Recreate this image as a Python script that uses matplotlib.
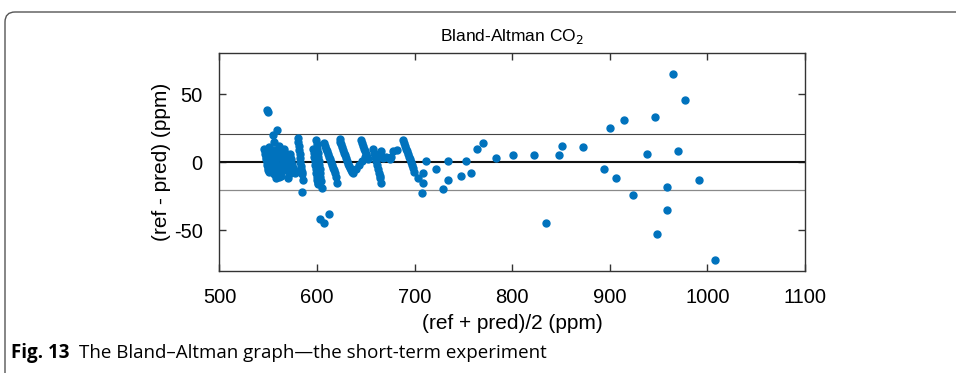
import numpy as np
import matplotlib
matplotlib.use('Agg')
import matplotlib.pyplot as plt
from matplotlib.patches import FancyBboxPatch
from matplotlib.transforms import IdentityTransform

#%% data: mean (ref, pred) vs difference, ppm
# dense part, one slanted streak after the other
x_dense = [546, 546.5, 547, 547.5, 548, 548.5, 549, 549.5, 550, 550.5,
           551, 551.5, 552, 552.5, 553, 553.5, 554, 554.5, 555, 555.5, 556,
           556, 556.5, 557, 557.5, 558, 558.5, 559, 559.5, 560, 560.5, 561,
           561, 561.5, 562, 562.5, 563, 563.5, 564, 564.5, 565, 565.5,
           566, 566.5, 567, 567.5, 568, 568.5, 569, 569.5, 570, 571,
           572, 572.5, 573, 573.5, 574, 575, 576, 577,
           549, 549.5, 555, 559, 556, 558, 563, 570,
           580, 580.5, 581, 581.5, 582, 582.5, 583, 583.5, 584, 584.5, 585, 586, 585,
           596, 596.5, 597, 597.5, 598, 598.5, 599, 599.5, 600, 600.5, 601,
           599, 599.5, 600, 600.5, 601, 601.5, 602, 602.5, 603, 603.5, 604, 605,
           603, 607, 612,
           607, 608, 609, 610, 611, 612, 613, 614, 615, 616, 617, 618, 619, 620,
           623, 624, 625, 626, 627, 628, 629, 630, 631, 632, 633, 634, 635, 636, 637,
           640, 643, 646, 649,
           645, 646, 647, 648, 649, 650, 651, 652,
           657, 658, 659, 660, 661, 662, 663, 664, 665, 666,
           661, 666, 668, 671, 675, 678, 682, 676,
           688, 689, 690, 691, 692, 693, 694, 695, 696, 697, 698, 699]
y_dense = [10, 8, 6, 4, 2, 0, -2, -4, -6, -7,
           11, 9, 7, 5, 3, 1, -1, -3, -5, -7, -9,
           9, 7, 5, 3, 1, -1, -3, -5, -7, -9, -11,
           12, 10, 8, 6, 4, 2, 0, -2, -4, -6,
           10, 8, 6, 4, 2, 0, -2, -4, -6, -9,
           6, 4, 2, 0, -2, -4, -6, -8,
           38, 37, 20, 24, 15, -12, -10, -12,
           18, 15, 12, 9, 6, 3, 0, -3, -5, -7, -9, -13, -22,
           10, 7, 4, 1, -2, -5, -8, -11, -13, -15, -16,
           16, 13, 10, 7, 4, 1, -2, -5, -8, -11, -14, -19,
           -42, -45, -38,
           14, 12, 10, 8, 6, 4, 2, 0, -2, -4, -6, -8, -11, -15,
           17, 15, 13, 11, 9, 7, 5, 3, 1, -1, -3, -4, -6, -7, -8,
           -5, -2, 1, 4,
           16, 14, 12, 10, 8, 6, 4, 2,
           10, 7, 4, 1, -2, -5, -8, -10, -12, -15,
           5, 8, 3, 4, 2, 8, 9, 4,
           16, 14, 12, 10, 8, 6, 4, 2, 0, -2, -4, -7]

# sparse part, above ~700 ppm
x_sparse = [703, 709, 709, 708, 712, 722, 729, 734, 734, 748, 753, 758,
            764, 770, 783, 801, 822, 848, 851, 873, 835,
            894, 900, 906, 915, 924, 938, 946, 948, 959, 959, 965,
            970, 977, 991, 1008]
y_sparse = [-12, -8, -15, -23, 1, -5, -20, 1, -13, -10, 1, -8,
            10, 14, 3, 5, 5, 5, 12, 11, -45,
            -5, 25, -12, 31, -24, 6, 33, -53, -18, -35, 65,
            8, 46, -13, -72]

mean_diff = 0.2
loa_upper = 20.8
loa_lower = -20.8

#%% plot
plt.rcParams['font.family'] = ['Liberation Sans', 'DejaVu Sans']
plt.rcParams['axes.unicode_minus'] = False
fig = plt.figure(figsize=(9.56, 3.73), dpi=100)
ax = fig.add_axes([0.2296, 0.2735, 0.6124, 0.5835])

ax.axhline(loa_upper, color='#444444', lw=0.8)
ax.axhline(loa_lower, color='#8a8a8a', lw=0.9)
ax.axhline(mean_diff, color='#111111', lw=1.5)
ax.plot(x_dense + x_sparse, y_dense + y_sparse, 'o', color='#0072BD',
        ms=5, mec='#0072BD', zorder=3)

ax.set_xlim(500, 1100)
ax.set_ylim(-80, 80)
ax.set_xticks(np.arange(500, 1101, 100))
ax.set_yticks([-50, 0, 50])
ax.tick_params(direction='in', length=5, width=1, top=True, right=True,
               labelsize=14.5, pad=12, color='#333333')
for s in ax.spines.values():
    s.set_color('#333333')
    s.set_linewidth(1)
ax.set_xlabel('(ref + pred)/2 (ppm)', fontsize=15, labelpad=5)
ax.set_ylabel('(ref - pred) (ppm)', fontsize=15, labelpad=2)
ax.set_title('Bland-Altman CO$_2$', fontsize=12.5, pad=9)

# rounded figure frame as on the journal page
frame = FancyBboxPatch((5, -50), 1100, 411, boxstyle='round,pad=0,rounding_size=10',
                       transform=IdentityTransform(), fill=False,
                       ec='#555555', lw=1)
fig.patches.append(frame)

fig.text(0.011, 0.04, 'Fig. 13', fontsize=13.5, fontweight='bold',
         family=['Open Sans', 'DejaVu Sans'])
fig.text(0.083, 0.04, 'The Bland\u2013Altman graph\u2014the short-term experiment',
         fontsize=13.5, family=['Open Sans', 'DejaVu Sans'])

fig.savefig('out.png', dpi=100)
